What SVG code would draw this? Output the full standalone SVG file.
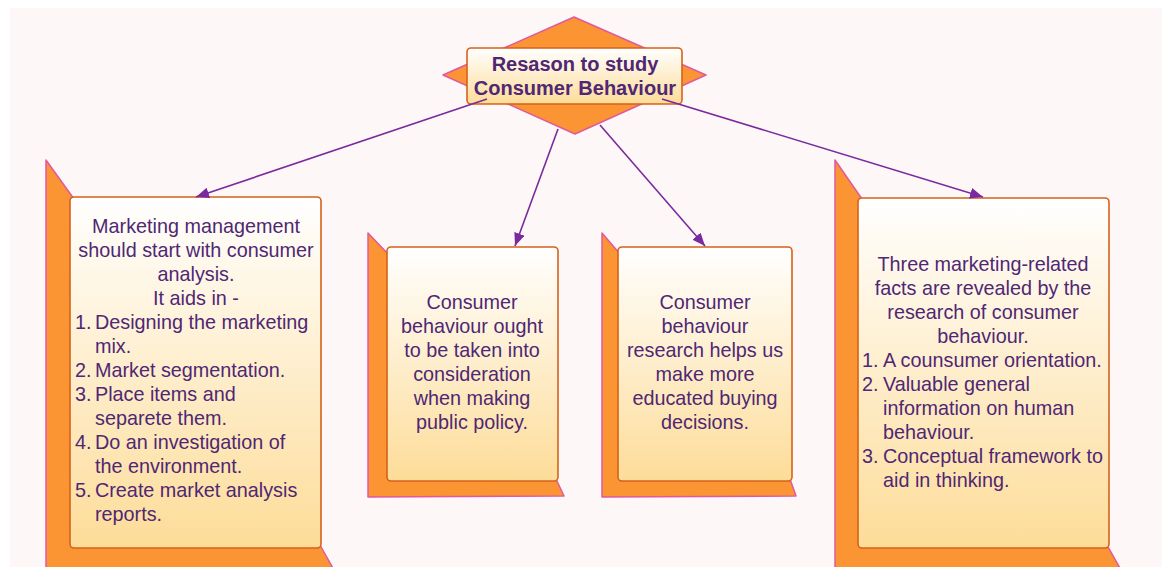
<svg xmlns="http://www.w3.org/2000/svg" width="1162" height="567" viewBox="0 0 1162 567">
  <defs>
    <linearGradient id="cardFill" x1="0" y1="0" x2="0" y2="1">
      <stop offset="0" stop-color="#ffffff"/>
      <stop offset="1" stop-color="#fddc98"/>
    </linearGradient>
    <marker id="arrow" viewBox="0 0 12 10" refX="12" refY="5" markerWidth="13" markerHeight="11" orient="auto" markerUnits="userSpaceOnUse">
      <path d="M0,0 L12,5 L0,10 Z" fill="#7a2a9e"/>
    </marker>
    <style>
      .back { fill: #fb9433; stroke: #e0599f; stroke-width: 1.5; stroke-linejoin: round; }
      .card { fill: url(#cardFill); stroke: #d5621b; stroke-width: 1.6; }
      .txt { font-family: "Liberation Sans", Arial, sans-serif; font-size: 19.8px; fill: #4f2774; }
      .c { text-anchor: middle; }
      .title { font-family: "Liberation Sans", Arial, sans-serif; font-size: 20px; font-weight: bold; fill: #4f2774; text-anchor: middle; }
      .link { fill: none; stroke: #7a2a9e; stroke-width: 1.6; marker-end: url(#arrow); }
    </style>
  </defs>

  <!-- page background -->
  <rect x="0" y="0" width="1162" height="567" fill="#ffffff"/>
  <rect x="10" y="8" width="1152" height="559" fill="#fdf8f7"/>

  <!-- root: reasons to study -->
  <g id="node-root">
    <polygon class="back" points="574,17 706,75 575,134 443,75"/>
    <rect class="card" x="467" y="48" width="215" height="56" rx="4"/>
    <text class="title" x="575" y="71">Resason to study</text>
    <text class="title" x="575" y="95">Consumer Behaviour</text>
  </g>

  <!-- marketing management -->
  <g id="node-marketing">
    <polygon class="back" points="46,160 74,199 320,199 320,545 334,570 46,570"/>
    <rect class="card" x="70" y="197" width="251" height="351" rx="4"/>
    <text class="txt c" x="196" y="233">Marketing management</text>
    <text class="txt c" x="196" y="257">should start with consumer</text>
    <text class="txt c" x="196" y="281">analysis.</text>
    <text class="txt c" x="196" y="305">It aids in -</text>
    <text class="txt" x="75" y="329">1.</text>
    <text class="txt" x="95" y="329">Designing the marketing</text>
    <text class="txt" x="95" y="353">mix.</text>
    <text class="txt" x="75" y="377">2.</text>
    <text class="txt" x="95" y="377">Market segmentation.</text>
    <text class="txt" x="75" y="401">3.</text>
    <text class="txt" x="95" y="401">Place items and</text>
    <text class="txt" x="95" y="425">separete them.</text>
    <text class="txt" x="75" y="449">4.</text>
    <text class="txt" x="95" y="449">Do an investigation of</text>
    <text class="txt" x="95" y="473">the environment.</text>
    <text class="txt" x="75" y="497">5.</text>
    <text class="txt" x="95" y="497">Create market analysis</text>
    <text class="txt" x="95" y="521">reports.</text>
  </g>

  <!-- public policy -->
  <g id="node-policy">
    <polygon class="back" points="368,233 388,254 556,254 556,479 564,496 368,497"/>
    <rect class="card" x="387" y="247" width="171" height="234" rx="4"/>
    <text class="txt c" x="472" y="309">Consumer</text>
    <text class="txt c" x="472" y="333">behaviour ought</text>
    <text class="txt c" x="472" y="357">to be taken into</text>
    <text class="txt c" x="472" y="381">consideration</text>
    <text class="txt c" x="472" y="405">when making</text>
    <text class="txt c" x="472" y="429">public policy.</text>
  </g>

  <!-- buying decisions -->
  <g id="node-buying">
    <polygon class="back" points="602,233 620,254 790,254 790,479 796,496 602,497"/>
    <rect class="card" x="618" y="247" width="174" height="234" rx="4"/>
    <text class="txt c" x="705" y="309">Consumer</text>
    <text class="txt c" x="705" y="333">behaviour</text>
    <text class="txt c" x="705" y="357">research helps us</text>
    <text class="txt c" x="705" y="381">make more</text>
    <text class="txt c" x="705" y="405">educated buying</text>
    <text class="txt c" x="705" y="429">decisions.</text>
  </g>

  <!-- marketing-related facts -->
  <g id="node-facts">
    <polygon class="back" points="835,160 862,199 1107,199 1107,545 1121,570 835,570"/>
    <rect class="card" x="858" y="198" width="251" height="350" rx="4"/>
    <text class="txt c" x="983" y="271">Three marketing-related</text>
    <text class="txt c" x="983" y="295">facts are revealed by the</text>
    <text class="txt c" x="983" y="319">research of consumer</text>
    <text class="txt c" x="983" y="343">behaviour.</text>
    <text class="txt" x="862" y="367">1.</text>
    <text class="txt" x="883" y="367">A counsumer orientation.</text>
    <text class="txt" x="862" y="391">2.</text>
    <text class="txt" x="883" y="391">Valuable general</text>
    <text class="txt" x="883" y="415">information on human</text>
    <text class="txt" x="883" y="439">behaviour.</text>
    <text class="txt" x="862" y="463">3.</text>
    <text class="txt" x="883" y="463">Conceptual framework to</text>
    <text class="txt" x="883" y="487">aid in thinking.</text>
  </g>

  <!-- connectors -->
  <g id="connectors">
    <line class="link" x1="487" y1="99" x2="196" y2="197"/>
    <line class="link" x1="558" y1="129" x2="515" y2="246"/>
    <line class="link" x1="600" y1="125" x2="705" y2="246"/>
    <line class="link" x1="662" y1="99" x2="983" y2="197"/>
  </g>
</svg>
